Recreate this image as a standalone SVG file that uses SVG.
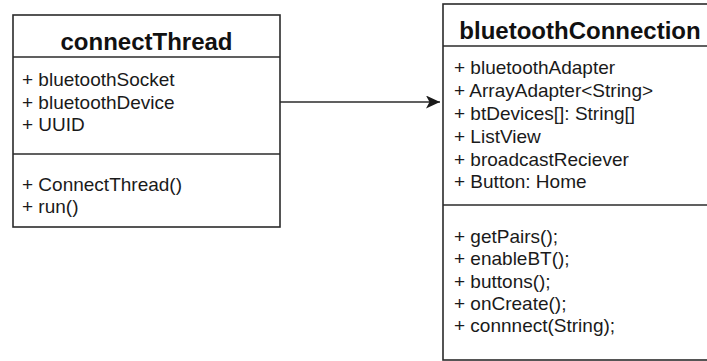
<svg xmlns="http://www.w3.org/2000/svg" width="707" height="361" viewBox="0 0 707 361">
  <defs>
    <style>
      .box { fill: #ffffff; stroke: #2b2b2b; stroke-width: 1.6; }
      .sep { stroke: #2b2b2b; stroke-width: 1.6; fill: none; }
      .title { font-family: "Liberation Sans", Arial, sans-serif; font-weight: bold; font-size: 24px; fill: #111111; text-anchor: middle; }
      .item { font-family: "Liberation Sans", Arial, sans-serif; font-size: 19px; fill: #1a1a1a; }
      .link { stroke: #2b2b2b; stroke-width: 1.6; fill: none; }
    </style>
    <marker id="arrowHead" viewBox="0 0 14 13" refX="14" refY="6.5" markerWidth="14" markerHeight="13" markerUnits="userSpaceOnUse" orient="auto">
      <path d="M14,6.5 L0,0 L3.5,6.5 L0,13 Z" fill="#1a1a1a"/>
    </marker>
  </defs>
  <rect width="707" height="361" fill="#ffffff"/>

  <!-- class: connectThread -->
  <g id="connectThread">
    <rect class="box" x="13" y="15" width="267" height="212"/>
    <line class="sep" x1="13" y1="57" x2="280" y2="57"/>
    <line class="sep" x1="13" y1="154" x2="280" y2="154"/>
    <text class="title" x="146.5" y="50">connectThread</text>
    <text class="item" x="22" y="86">+ bluetoothSocket</text>
    <text class="item" x="22" y="108.5">+ bluetoothDevice</text>
    <text class="item" x="22" y="131">+ UUID</text>
    <text class="item" x="22" y="190.5">+ ConnectThread()</text>
    <text class="item" x="22" y="213">+ run()</text>
  </g>

  <!-- class: bluetoothConnection -->
  <g id="bluetoothConnection">
    <rect class="box" x="443" y="4" width="274" height="356"/>
    <line class="sep" x1="443" y1="46" x2="717" y2="46"/>
    <line class="sep" x1="443" y1="205" x2="717" y2="205"/>
    <text class="title" x="580" y="38.5">bluetoothConnection</text>
    <text class="item" x="454" y="74.3">+ bluetoothAdapter</text>
    <text class="item" x="454" y="97.1">+ ArrayAdapter&lt;String&gt;</text>
    <text class="item" x="454" y="119.9">+ btDevices[]: String[]</text>
    <text class="item" x="454" y="142.7">+ ListView</text>
    <text class="item" x="454" y="165.5">+ broadcastReciever</text>
    <text class="item" x="454" y="188.3">+ Button: Home</text>
    <text class="item" x="454" y="243.3">+ getPairs();</text>
    <text class="item" x="454" y="265.4">+ enableBT();</text>
    <text class="item" x="454" y="287.5">+ buttons();</text>
    <text class="item" x="454" y="309.6">+ onCreate();</text>
    <text class="item" x="454" y="331.7">+ connnect(String);</text>
  </g>

  <!-- association -->
  <g id="connectors">
    <line class="link" x1="280" y1="102" x2="440" y2="102" marker-end="url(#arrowHead)"/>
  </g>
</svg>
